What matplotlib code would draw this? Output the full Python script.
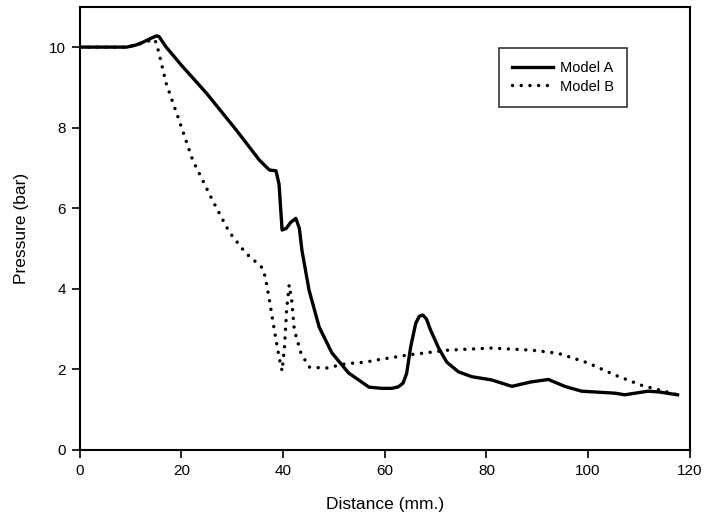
import matplotlib
matplotlib.use("Agg")
import matplotlib.pyplot as plt

plt.rcParams['font.family'] = ['Liberation Sans', 'DejaVu Sans']

# Model A
dist_a = [0, 5, 9.2, 11, 12.4, 14, 15.1, 15.6, 17, 20, 24.9, 30.8, 35.3, 37.3, 38.6, 39.2, 39.8, 40.6,
          41.5, 42.5, 43.2, 43.7, 45.1, 47.1, 49.6, 52.9, 56.9, 59.4, 61.4, 62.7, 63.6, 64.3, 65.1,
          66.1, 66.8, 67.5, 68.2, 69, 70.6, 72.2, 74.5, 77.1, 81, 85, 88.8, 92.2, 95.4, 98.7, 105.3,
          107.2, 111.8, 114, 117.6]
pres_a = [10, 10, 10, 10.05, 10.12, 10.22, 10.28, 10.26, 10.0, 9.55, 8.86, 7.94, 7.2, 6.95, 6.93, 6.6,
          5.46, 5.5, 5.65, 5.75, 5.5, 4.96, 3.97, 3.05, 2.41, 1.91, 1.56, 1.53, 1.53, 1.57, 1.66, 1.9, 2.56,
          3.15, 3.32, 3.35, 3.25, 2.98, 2.53, 2.18, 1.94, 1.82, 1.74, 1.58, 1.69, 1.75, 1.58, 1.46, 1.41,
          1.37, 1.46, 1.44, 1.37]

# Model B
dist_b = [0, 5, 9.2, 11, 12.4, 14.6, 15.1, 17, 19.3, 22.2, 26.1, 29.4, 32.7, 35.7, 36.5, 37.3, 38.6,
          39.3, 39.8, 40.3, 40.7, 41.2, 41.7, 42.2, 43.5, 45.1, 48.4, 52.3, 56.2, 58.2, 64.7, 72.5,
          81, 88.8, 94.1, 100, 105.3, 110.4, 117.6]
pres_b = [10, 10, 10, 10.05, 10.1, 10.2, 10.1, 9.1, 8.27, 7.2, 6.2, 5.41, 4.88, 4.55, 4.3, 3.72, 2.73,
          2.25, 1.96, 2.6, 3.5, 4.1, 3.7, 2.98, 2.41, 2.06, 2.03, 2.14, 2.18, 2.23, 2.36, 2.48,
          2.53, 2.48, 2.4, 2.16, 1.86, 1.61, 1.37]

x_ticks = [0, 20, 40, 60, 80, 100, 120]
y_ticks = [0, 2, 4, 6, 8, 10]

fig = plt.figure(figsize=(7.06, 5.26), dpi=100)
ax = fig.add_axes([0.113, 0.1445, 0.864, 0.8425])

ax.plot(dist_a, pres_a, color='black', linewidth=2.4, solid_joinstyle='round', label='Model A')
ax.plot(dist_b, pres_b, color='black', linewidth=2.5, linestyle=(0, (0.01, 2.5)),
        dash_capstyle='round', label='Model B')

ax.set_xlim(0, 120)
ax.set_ylim(0, 11)
ax.set_xticks(x_ticks)
ax.set_yticks(y_ticks)
ax.tick_params(direction='out', length=6, width=1.2, labelsize=11, pad=4)
for s in ax.spines.values():
    s.set_linewidth(1.5)

ax.set_xlabel('Distance (mm.)', fontsize=12.5, labelpad=14)
ax.set_ylabel('Pressure (bar)', fontsize=12.5, labelpad=14)

leg = ax.legend(loc='upper right', bbox_to_anchor=(0.897, 0.907), borderaxespad=0,
                frameon=True, fancybox=False, edgecolor='black', fontsize=10.5,
                handlelength=2.75, handletextpad=0.5, borderpad=0.9, labelspacing=0.3)
leg.get_frame().set_linewidth(1.2)

fig.savefig('out.png', dpi=100)
